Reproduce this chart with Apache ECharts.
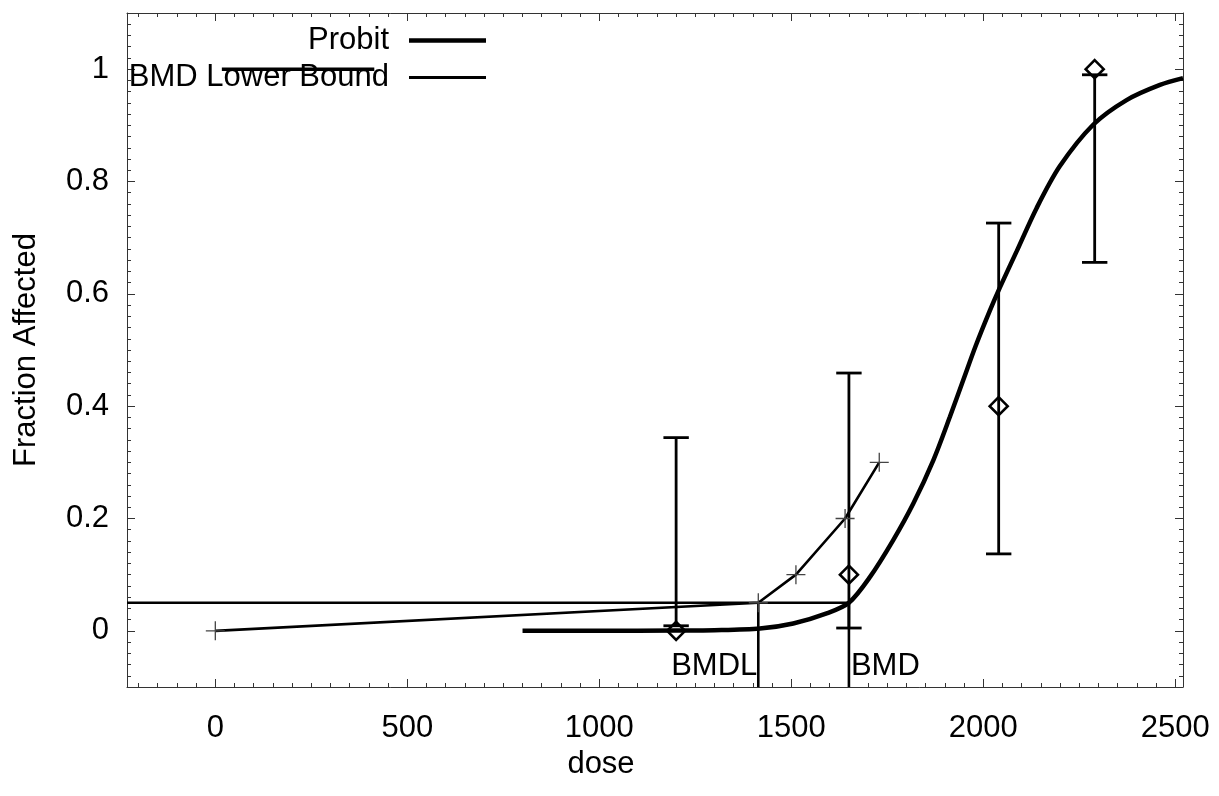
<!DOCTYPE html>
<html><head><meta charset="utf-8">
<script src="https://cdn.jsdelivr.net/npm/echarts@6/dist/echarts.min.js"></script>
<style>html,body{margin:0;padding:0;background:#fff}#c{width:1219px;height:796px}</style>
</head><body><div id="c"></div>
<script>
// ---- data ----
const xMajorTicks = [0, 500, 1000, 1500, 2000, 2500];
const yMajorTicks = [0, 0.2, 0.4, 0.6, 0.8, 1];
const xRange = [-230, 2520];
const yRange = [-0.1, 1.1];

const doses = [1200, 1650, 2040, 2290];
const observedFraction = [0, 0.1, 0.4, 1.0];
const ciLower = [0.009, 0.005, 0.137, 0.656];
const ciUpper = [0.344, 0.459, 0.726, 0.990];

const probitDose = [800, 1000, 1200, 1300, 1418, 1505, 1592, 1650, 1705, 1765, 1818, 1870, 1913, 1948, 1980, 2017, 2043, 2087, 2139, 2199, 2286, 2373, 2460, 2520];
const probitFraction = [0, 0, 0.0005, 0.001, 0.004, 0.013, 0.031, 0.05, 0.096, 0.161, 0.227, 0.304, 0.381, 0.447, 0.507, 0.570, 0.611, 0.676, 0.753, 0.827, 0.901, 0.945, 0.972, 0.984];

const lowerBoundDose = [0, 1414, 1512, 1640, 1729];
const lowerBoundFraction = [0, 0.05, 0.1, 0.2, 0.3];

const bmr = 0.05;
const bmdl = 1414;
const bmd = 1650;

const segmentDose = [17, 414];
const segmentFraction = [1, 1];

const xMinorStep = 50;
const yMinorStep = 0.02;

// ---- build ----
const FONT = 'Liberation Sans, Arial, sans-serif';
const FS = 31;
const AX = '#333';
const xMinorTicks = [];
for (let v = -200; v <= 2500; v += xMinorStep) xMinorTicks.push(v);
const yMinorTicks = [];
for (let i = 0; ; i++) { const v = Math.round((yRange[0] + i * yMinorStep) * 100) / 100; if (v > yRange[1] + 1e-9) break; yMinorTicks.push(v); }

function xAxisDef(pos, ticks, len, labels, showLine) {
  return {
    type: 'value', gridIndex: 0, position: pos, min: xRange[0], max: xRange[1],
    axisLine: { show: showLine, onZero: false, lineStyle: { color: AX, width: 1 } },
    axisTick: { show: true, inside: true, length: len, customValues: ticks, lineStyle: { color: AX, width: 1 } },
    axisLabel: labels ? { show: true, customValues: ticks, fontSize: FS, fontFamily: FONT, color: '#000', margin: 26, formatter: v => String(v) } : { show: false },
    splitLine: { show: false }, minorTick: { show: false }
  };
}
function yAxisDef(pos, ticks, len, labels, showLine) {
  return {
    type: 'value', gridIndex: 0, position: pos, min: yRange[0], max: yRange[1],
    axisLine: { show: showLine, onZero: false, lineStyle: { color: AX, width: 1 } },
    axisTick: { show: true, inside: true, length: len, customValues: ticks, lineStyle: { color: AX, width: 1 } },
    axisLabel: labels ? { show: true, customValues: ticks, fontSize: FS, fontFamily: FONT, color: '#000', margin: 18, formatter: v => String(Math.round(v * 10) / 10) } : { show: false },
    splitLine: { show: false }, minorTick: { show: false }
  };
}

const xAxes = [
  xAxisDef('bottom', xMajorTicks, 8, true, true),
  xAxisDef('bottom', xMinorTicks, 4, false, false),
  xAxisDef('top', xMajorTicks, 8, false, true),
  xAxisDef('top', xMinorTicks, 4, false, false)
];
Object.assign(xAxes[0], {
  name: 'dose', nameLocation: 'middle', nameGap: 59,
  nameTextStyle: { fontSize: FS, fontFamily: FONT, color: '#000', padding: [0, 108, 0, 0] }
});
const yAxes = [
  yAxisDef('left', yMajorTicks, 8, true, true),
  yAxisDef('left', yMinorTicks, 4, false, false),
  yAxisDef('right', yMajorTicks, 8, false, true),
  yAxisDef('right', yMinorTicks, 4, false, false)
];
Object.assign(yAxes[0], {
  name: 'Fraction Affected', nameLocation: 'middle', nameGap: 85,
  nameTextStyle: { fontSize: FS, fontFamily: FONT, color: '#000' }
});

const pair = (xs, ys) => xs.map((x, i) => [x, ys[i]]);
const lineBase = { type: 'line', xAxisIndex: 0, yAxisIndex: 0, silent: true, animation: false };
const plusPath = 'path://M10,0L10,20M0,10L20,10';

const option = {
  animation: false,
  backgroundColor: '#fff',
  grid: { left: 127, right: 36, top: 13, bottom: 109, containLabel: false, outerBoundsMode: 'none' },
  xAxis: xAxes,
  yAxis: yAxes,
  legend: [
    { data: ['Probit'], right: 733, top: 25, padding: 0, align: 'right', icon: 'rect', itemWidth: 77, itemHeight: 4.5,
      selectedMode: false, textStyle: { fontSize: FS, fontFamily: FONT, color: '#000', padding: [0, 15, 0, 0] },
      itemStyle: { color: '#000', borderWidth: 0, opacity: 1 } },
    { data: ['BMD Lower Bound'], right: 733, top: 62, padding: 0, align: 'right', icon: 'rect', itemWidth: 77, itemHeight: 3,
      selectedMode: false, textStyle: { fontSize: FS, fontFamily: FONT, color: '#000', padding: [0, 15, 0, 0] },
      itemStyle: { color: '#000', borderWidth: 0, opacity: 1 } }
  ],
  series: [
    Object.assign({}, lineBase, { name: 'BMR line', data: [[xRange[0], bmr], [bmd, bmr]], symbol: 'none', lineStyle: { color: '#000', width: 2.6 } }),
    Object.assign({}, lineBase, { name: 'BMDL line', data: [[bmdl, yRange[0]], [bmdl, bmr]], symbol: 'none', lineStyle: { color: '#000', width: 2.6 } }),
    Object.assign({}, lineBase, { name: 'BMD line', data: [[bmd, yRange[0]], [bmd, bmr]], symbol: 'none', lineStyle: { color: '#000', width: 2.6 } }),
    Object.assign({}, lineBase, { name: 'segment', data: pair(segmentDose, segmentFraction), symbol: 'none', lineStyle: { color: '#000', width: 3.5 } }),
    Object.assign({}, lineBase, { name: 'BMD Lower Bound', data: pair(lowerBoundDose, lowerBoundFraction),
      symbol: plusPath, symbolSize: 19, showAllSymbol: true,
      itemStyle: { color: '#444', borderColor: '#444', borderWidth: 1.3 },
      lineStyle: { color: '#000', width: 2.6 } }),
    Object.assign({}, lineBase, { name: 'Probit', data: pair(probitDose, probitFraction), symbol: 'none',
      smooth: 0.3, lineStyle: { color: '#000', width: 4.5 }, itemStyle: { color: '#000' } }),
    {
      type: 'custom', name: 'CI', xAxisIndex: 0, yAxisIndex: 0, silent: true, animation: false,
      data: doses.map((d, i) => [d, ciLower[i], ciUpper[i]]),
      renderItem: function (params, api) {
        const lo = api.coord([api.value(0), api.value(1)]);
        const hi = api.coord([api.value(0), api.value(2)]);
        const w = 12.7;
        const st = { stroke: '#000', lineWidth: 2.8, fill: null };
        return { type: 'group', children: [
          { type: 'line', shape: { x1: lo[0], y1: lo[1], x2: hi[0], y2: hi[1] }, style: st },
          { type: 'line', shape: { x1: lo[0] - w, y1: lo[1], x2: lo[0] + w, y2: lo[1] }, style: st },
          { type: 'line', shape: { x1: hi[0] - w, y1: hi[1], x2: hi[0] + w, y2: hi[1] }, style: st }
        ] };
      },
      z: 3
    },
    { type: 'scatter', name: 'Observed', xAxisIndex: 0, yAxisIndex: 0, silent: true, animation: false,
      data: pair(doses, observedFraction), symbol: 'diamond', symbolSize: 18,
      itemStyle: { color: 'rgba(0,0,0,0)', borderColor: '#000', borderWidth: 2.6, opacity: 1 }, z: 4 },
    { type: 'scatter', name: 'labels', xAxisIndex: 0, yAxisIndex: 0, silent: true, animation: false,
      symbolSize: 0, itemStyle: { opacity: 1 },
      data: [
        { value: [bmdl, -0.064], label: { show: true, position: 'left', distance: 1, formatter: 'BMDL' } },
        { value: [bmd, -0.064], label: { show: true, position: 'right', distance: 2, formatter: 'BMD' } }
      ],
      label: { fontSize: FS, fontFamily: FONT, color: '#000' }
    }
  ]
};
const chart = echarts.init(document.getElementById('c'), null, { renderer: 'canvas' });
chart.setOption(option);
</script>
</body></html>
